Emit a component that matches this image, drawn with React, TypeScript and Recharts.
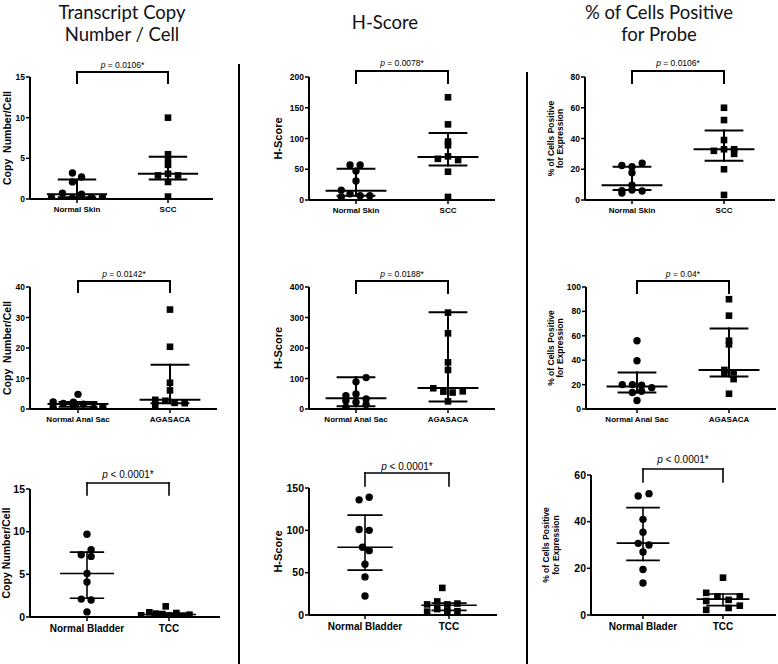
import React from 'react';
import { ScatterChart, Scatter, XAxis, YAxis, ReferenceLine } from 'recharts';

const FONT = '"Liberation Sans", Arial, sans-serif';
const TITLE_FONT = 'Lato, "Open Sans", sans-serif';

// ---- row 1: skin
const skinCats = ['Normal Skin', 'SCC'];
const skinCopyNormal = [3.2, 2.7, 2.1, 0.7, 0.6, 0.2, 0.1, 0.2, 0.2];
const skinCopyNormalJit = [-0.05, 0.05, -0.05, -0.16, 0.05, -0.28, -0.05, 0.16, 0.28];
const skinCopyScc = [10, 5.5, 4.9, 4.2, 2.9, 3.1, 2.9, 2.1, 0.3];
const skinCopySccJit = [0, 0, 0, 0, -0.11, 0, 0.11, 0, 0];
const skinCopyStats = [[0.2, 0.57, 2.4], [2.4, 3.1, 5.2]]; // q1, median, q3

const skinHNormal = [57, 57, 47, 31, 16, 5, 10, 7, 7];
const skinHNormalJit = [-0.065, 0.045, 0, 0, -0.16, -0.16, -0.065, 0.045, 0.15];
const skinHScc = [167, 123, 95, 89, 67, 71, 65, 46, 5];
const skinHSccJit = [0, 0, 0, 0, -0.11, 0, 0.11, 0, 0];
const skinHStats = [[7, 15, 51], [56, 70, 109]];

const skinPosNormal = [22.4, 21.7, 24, 17.8, 6.1, 4.5, 9.6, 5.9, 6.5];
const skinPosNormalJit = [-0.11, 0, 0.11, 0, -0.11, -0.11, 0, 0.11, 0];
const skinPosScc = [60, 52, 39, 32, 33, 33, 30, 20, 3.3];
const skinPosSccJit = [0, 0, 0, -0.11, 0, 0.11, 0.11, 0, 0];
const skinPosStats = [[6.5, 9.6, 21.7], [25.6, 33, 45.2]];

// ---- row 2: anal sac
const analCats = ['Normal Anal Sac', 'AGASACA'];
const analCopyNormal = [2.3, 0.6, 1.8, 2.2, 1.2, 4.8, 1.6, 0.2, 0.7];
const analCopyNormalJit = [-0.27, -0.27, -0.16, -0.05, -0.05, 0, 0.06, 0.17, 0.27];
const analCopyAga = [32.6, 20.4, 8.6, 6.1, 3.0, 1.3, 2.7, 2.0, 1.9];
const analCopyAgaJit = [0, 0, 0, 0, -0.16, -0.16, -0.05, 0.05, 0.16];
const analCopyStats = [[0.7, 1.6, 2.3], [1.9, 3.0, 14.5]];

const analHNormal = [103, 89, 49, 44, 27, 22, 33, 15, 6];
const analHNormalJit = [0.11, 0, 0, -0.11, -0.11, 0, 0.11, 0.11, -0.11];
const analHAga = [316, 248, 153, 128, 68, 57, 54, 58, 25];
const analHAgaJit = [0, 0, 0, 0, -0.16, -0.05, 0.05, 0.16, 0];
const analHStats = [[9, 35, 104], [25, 69, 317]];

const analPosNormal = [56, 39.5, 20, 20, 19.5, 17.5, 13.5, 14.5, 7];
const analPosNormalJit = [0, 0, -0.16, -0.05, 0.05, 0.16, -0.05, 0.05, 0];
const analPosAga = [90, 76.5, 56, 53, 32, 30, 29, 24.5, 12.5];
const analPosAgaJit = [0, 0, 0, 0, -0.05, 0.05, -0.05, 0.05, 0];
const analPosStats = [[13.6, 18.5, 30], [26.6, 32, 66]];

// ---- row 3: bladder
const bladCats = ['Normal Bladder', 'TCC'];
const bladCats3 = ['Normal Blader', 'TCC'];
const bladCopyNormal = [9.7, 7.3, 7.9, 7.1, 5.1, 4.1, 2.1, 2.0, 0.6];
const bladCopyNormalJit = [0, -0.07, 0.05, 0.05, 0, 0, -0.07, 0.05, 0];
const bladCopyTcc = [0.2, 0.55, 0.4, 1.25, 0.35, 0.15, 0.47, 0.08, 0.27];
const bladCopyTccJit = [-0.34, -0.24, -0.16, -0.04, -0.08, 0.01, 0.09, 0.17, 0.25];
const bladCopyStats = [[2.2, 5.1, 7.6], [0.15, 0.3, 0.45]];

const bladHNormal = [136, 139, 101, 100, 80, 76, 60, 45, 22.5];
const bladHNormalJit = [-0.07, 0.05, -0.07, 0.05, -0.03, 0.05, 0, 0, 0];
const bladHTcc = [32, 16, 12.5, 12.5, 13.5, 4, 7, 5, 4.5];
const bladHTccJit = [-0.08, -0.14, -0.26, -0.02, 0.1, -0.26, -0.14, -0.02, 0.1];
const bladHStats = [[53, 80, 118], [5.5, 11.5, 14]];

const bladPosNormal = [51, 52, 41, 35.5, 30.7, 30, 27, 19.5, 13.7];
const bladPosNormalJit = [-0.06, 0.075, 0, 0, -0.06, 0.075, 0, 0, 0];
const bladPosTcc = [16, 9.5, 8, 6, 6.5, 8, 4, 2.2, 3];
const bladPosTccJit = [0, -0.21, -0.07, -0.21, 0.07, 0.21, 0.21, -0.21, 0.07];
const bladPosStats = [[23.4, 30.8, 46], [4, 6.8, 9]];

const pValues = ['0.0106*', '0.0078*', '0.0106*', '0.0142*', '0.0188*', '0.04*', '0.0001*', '0.0001*', '0.0001*'];

const copyLabel = ['Copy  Number/Cell'];
const hLabel = ['H-Score'];
const posLabel = ['% of Cells Positive', 'for Expression'];

// layout of each panel in page pixels
const panels = [
  { left: 0, x0: 30, x1: 213, y0: 77, y1: 199, c1: 77, c2: 168, ticks: [0, 5, 10, 15], cats: skinCats, a: skinCopyNormal, aj: skinCopyNormalJit, b: skinCopyScc, bj: skinCopySccJit, stats: skinCopyStats, p: pValues[0], op: '=', up: 5, down: 6, gap: 4, label: copyLabel, lx: [7], big: false },
  { left: 262, x0: 309, x1: 495, y0: 77, y1: 200, c1: 356, c2: 448, ticks: [0, 50, 100, 150, 200], cats: skinCats, a: skinHNormal, aj: skinHNormalJit, b: skinHScc, bj: skinHSccJit, stats: skinHStats, p: pValues[1], op: '=', up: 6, down: 6, gap: 5, label: hLabel, lx: [278], big: false },
  { left: 536, x0: 585, x1: 775, y0: 77, y1: 200, c1: 632, c2: 724, ticks: [0, 20, 40, 60, 80], cats: skinCats, a: skinPosNormal, aj: skinPosNormalJit, b: skinPosScc, bj: skinPosSccJit, stats: skinPosStats, p: pValues[2], op: '=', up: 6, down: 6, gap: 5, label: posLabel, lx: [551, 560], big: false },
  { left: 0, x0: 30, x1: 217, y0: 287, y1: 409, c1: 78, c2: 170, ticks: [0, 10, 20, 30, 40], cats: analCats, a: analCopyNormal, aj: analCopyNormalJit, b: analCopyAga, bj: analCopyAgaJit, stats: analCopyStats, p: pValues[3], op: '=', up: 6, down: 5, gap: 4, label: copyLabel, lx: [7], big: false },
  { left: 262, x0: 309, x1: 495, y0: 287, y1: 409, c1: 356, c2: 448, ticks: [0, 100, 200, 300, 400], cats: analCats, a: analHNormal, aj: analHNormalJit, b: analHAga, bj: analHAgaJit, stats: analHStats, p: pValues[4], op: '=', up: 6, down: 6, gap: 4, label: hLabel, lx: [278], big: false },
  { left: 536, x0: 586, x1: 776, y0: 287, y1: 409, c1: 637, c2: 729, ticks: [0, 20, 40, 60, 80, 100], cats: analCats, a: analPosNormal, aj: analPosNormalJit, b: analPosAga, bj: analPosAgaJit, stats: analPosStats, p: pValues[5], op: '=', up: 6, down: 6, gap: 4, label: posLabel, lx: [551, 560], big: false },
  { left: 0, x0: 30, x1: 220, y0: 489, y1: 617, c1: 87, c2: 169, ticks: [0, 5, 10, 15], cats: bladCats, a: bladCopyNormal, aj: bladCopyNormalJit, b: bladCopyTcc, bj: bladCopyTccJit, stats: bladCopyStats, p: pValues[6], op: '<', up: 6, down: 6, gap: 5, label: ['Copy Number/Cell'], lx: [6], big: true },
  { left: 262, x0: 309, x1: 497, y0: 488, y1: 615, c1: 365, c2: 449, ticks: [0, 50, 100, 150], cats: bladCats, a: bladHNormal, aj: bladHNormalJit, b: bladHTcc, bj: bladHTccJit, stats: bladHStats, p: pValues[7], op: '<', up: 15, down: -2, gap: 3, label: hLabel, lx: [278], big: true },
  { left: 536, x0: 591, x1: 776, y0: 475, y1: 615, c1: 643, c2: 723, ticks: [0, 20, 40, 60], cats: bladCats3, a: bladPosNormal, aj: bladPosNormalJit, b: bladPosTcc, bj: bladPosTccJit, stats: bladPosStats, p: pValues[8], op: '<', up: 6, down: 7, gap: 6, label: posLabel, lx: [546, 556], big: true },
];

const TOP = 36;
const XH = 26;
const MED = 0.32;
const WHISK = 0.2;

const Dot = (props: any) => <circle cx={props.cx} cy={props.cy} r={3.7} fill="#000" />;
const Sq = (props: any) => (
  <rect x={props.cx - 3.3} y={props.cy - 3.3} width={6.6} height={6.6} fill="#000" />
);

function Panel({ p }: { p: any }) {
  const unit = p.c2 - p.c1;
  const xDomain = [1 - (p.c1 - p.x0) / unit, 2 + (p.x1 - p.c2) / unit];
  const yMax = p.ticks[p.ticks.length - 1];
  const perPx = yMax / (p.y1 - p.y0);
  const chartTop = p.y0 - TOP;
  const width = p.x1 - p.left + 2;
  const height = p.y1 - chartTop + XH;
  const tickFs = p.big ? 10.5 : 8.5;
  const catFs = p.big ? 10 : 8;
  const pFs = p.big ? 10 : 8.5;
  const lw = p.big ? 1.6 : 2;
  const labelFs = p.label.length > 1 ? 8.5 : p.label[0] === 'H-Score' ? 11 : 10.5;

  const dataA = p.a.map((v: number, i: number) => ({ x: 1 + p.aj[i], y: v }));
  const dataB = p.b.map((v: number, i: number) => ({ x: 2 + p.bj[i], y: v }));
  const yTop = yMax + p.up * perPx;
  const yLeg = yMax - p.down * perPx;

  const yLabel = () => {
    const cy = (p.y0 + p.y1) / 2 - chartTop;
    return (
      <g>
        {p.label.map((t: string, i: number) => {
          const cx = p.lx[i] - p.left;
          return (
            <text key={t} x={cx} y={cy} transform={`rotate(-90 ${cx} ${cy})`} textAnchor="middle"
              dominantBaseline="central" fontFamily={FONT} fontWeight="bold"
              fontSize={labelFs} fill="#000" style={{ whiteSpace: 'pre' }}>
              {t}
            </text>
          );
        })}
      </g>
    );
  };

  const pLabel = (lp: any) => {
    const vb = lp.viewBox || {};
    const cx = (vb.x ?? 0) + (vb.width ?? 0) / 2;
    const y = (vb.y ?? 0) - p.gap;
    return (
      <text x={cx} y={y} textAnchor="middle" fontFamily={FONT} fontSize={pFs} fill="#000">
        <tspan fontStyle="italic">p</tspan>
        {` ${p.op} ${p.p}`}
      </text>
    );
  };

  const seg = (x1: number, y1: number, x2: number, y2: number, key: string, extra: any = {}) => (
    <ReferenceLine key={key} segment={[{ x: x1, y: y1 }, { x: x2, y: y2 }]} stroke="#000"
      strokeWidth={lw} strokeLinecap="square" ifOverflow="visible" {...extra} />
  );

  const statLines = p.stats.flatMap((s: number[], g: number) => {
    const cx = g + 1;
    return [
      seg(cx - MED, s[1], cx + MED, s[1], `m${g}`),
      seg(cx - WHISK, s[0], cx + WHISK, s[0], `l${g}`),
      seg(cx - WHISK, s[2], cx + WHISK, s[2], `u${g}`),
      seg(cx, s[0], cx, s[2], `v${g}`),
    ];
  });

  return (
    <div style={{ position: 'absolute', left: p.left, top: chartTop }}>
      <ScatterChart width={width} height={height} margin={{ top: TOP, right: 2, bottom: 0, left: 0 }}>
        <XAxis type="number" dataKey="x" domain={xDomain} ticks={[1, 2]} interval={0} allowDataOverflow
          tickFormatter={(v: number) => p.cats[Math.round(v) - 1]} height={XH}
          axisLine={{ stroke: '#000', strokeWidth: 2 }} tickLine={{ stroke: '#000', strokeWidth: 1.5 }}
          tickSize={4} tickMargin={p.big ? 4 : 3}
          tick={{ fill: '#000', fontSize: catFs, fontWeight: 'bold', fontFamily: FONT }} />
        <YAxis type="number" dataKey="y" domain={[0, yMax]} ticks={p.ticks} interval={0} allowDataOverflow
          width={p.x0 - p.left} axisLine={{ stroke: '#000', strokeWidth: 2 }}
          tickLine={{ stroke: '#000', strokeWidth: 1.5 }} tickSize={4} tickMargin={1}
          tick={{ fill: '#000', fontSize: tickFs, fontWeight: 'bold', fontFamily: FONT }}
          label={yLabel} />
        <Scatter data={dataA} shape={Dot} isAnimationActive={false} />
        <Scatter data={dataB} shape={Sq} isAnimationActive={false} />
        {statLines}
        {seg(1, yLeg, 1, yTop, 'bl')}
        {seg(1, yTop, 2, yTop, 'bt', { label: pLabel })}
        {seg(2, yTop, 2, yLeg, 'br')}
      </ScatterChart>
    </div>
  );
}

export default function App() {
  return (
    <div style={{ position: 'absolute', left: 0, top: 0, width: 778, height: 664, overflow: 'hidden', background: '#fff' }}>
      <svg width={778} height={664} style={{ position: 'absolute', left: 0, top: 0 }}>
        <g fontFamily={TITLE_FONT} fontSize={18.5} fill="#111" textAnchor="middle">
          <text x={122} y={19}>Transcript Copy</text>
          <text x={122} y={41}>Number / Cell</text>
          <text x={385} y={29}>H-Score</text>
          <text x={659} y={19}>% of Cells Positive</text>
          <text x={659} y={41}>for Probe</text>
        </g>
        <line x1={239} y1={64} x2={239} y2={664} stroke="#000" strokeWidth={2} />
        <line x1={527} y1={72} x2={527} y2={664} stroke="#000" strokeWidth={2} />
      </svg>
      {panels.map((p, i) => <Panel key={i} p={p} />)}
    </div>
  );
}
